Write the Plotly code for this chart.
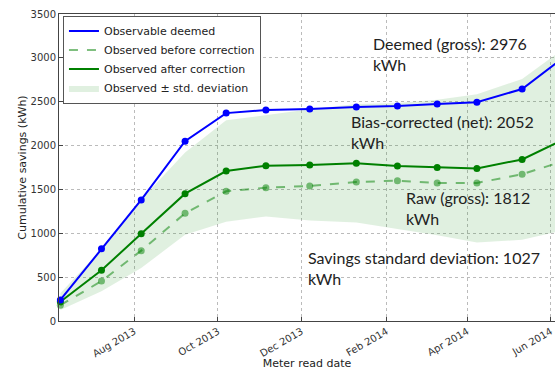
import plotly.graph_objects as go

# Meter read dates (roughly monthly)
read_dates = [
    "2013-06-08", "2013-07-08", "2013-08-06", "2013-09-07", "2013-10-07",
    "2013-11-05", "2013-12-07", "2014-01-10", "2014-02-09", "2014-03-10",
    "2014-04-08", "2014-05-11", "2014-06-08",
]

# Cumulative savings in kWh
deemed = [240, 825, 1380, 2050, 2370, 2405, 2417, 2440, 2452, 2475, 2495, 2645, 2976]
observed_raw = [180, 455, 802, 1228, 1479, 1520, 1540, 1585, 1600, 1574, 1574, 1673, 1812]
observed_corrected = [220, 578, 995, 1452, 1710, 1771, 1779, 1798, 1768, 1750, 1740, 1842, 2052]
savings_std = [95, 240, 390, 470, 578, 580, 634, 675, 718, 771, 845, 917, 1027]

y_ticks = [0, 500, 1000, 1500, 2000, 2500, 3000, 3500]
x_ticks = ["2013-08-01", "2013-10-01", "2013-12-01", "2014-02-01", "2014-04-01", "2014-06-01"]
x_tick_labels = ["Aug 2013", "Oct 2013", "Dec 2013", "Feb 2014", "Apr 2014", "Jun 2014"]

# Summary labels placed on the chart
annotations_text = [
    ("Deemed (gross): 2976<br>kWh", "2014-01-21", 3290),
    ("Bias-corrected (net): 2052<br>kWh", "2014-01-05", 2400),
    ("Raw (gross): 1812<br>kWh", "2014-02-14", 1535),
    ("Savings standard deviation: 1027<br>kWh", "2013-12-04", 855),
]

BLUE = "#0000ff"
GREEN = "#008000"
GREEN_LIGHT = "rgba(0,128,0,0.5)"
BAND = "rgba(0,128,0,0.12)"

upper = [c + s for c, s in zip(observed_corrected, savings_std)]
lower = [c - s for c, s in zip(observed_corrected, savings_std)]

fig = go.Figure()

# Standard deviation band
fig.add_trace(go.Scatter(x=read_dates, y=lower, mode="lines", line=dict(width=0),
                         showlegend=False, hoverinfo="skip"))
fig.add_trace(go.Scatter(x=read_dates, y=upper, mode="lines", line=dict(width=0),
                         fill="tonexty", fillcolor=BAND,
                         name="Observed \u00b1 std. deviation", legendrank=4))

# Lines (legend entries)
fig.add_trace(go.Scatter(x=read_dates, y=observed_raw, mode="lines",
                         line=dict(color=GREEN_LIGHT, width=2, dash="dash"),
                         name="Observed before correction", legendrank=2))
fig.add_trace(go.Scatter(x=read_dates, y=observed_corrected, mode="lines",
                         line=dict(color=GREEN, width=2),
                         name="Observed after correction", legendrank=3))
fig.add_trace(go.Scatter(x=read_dates, y=deemed, mode="lines",
                         line=dict(color=BLUE, width=2),
                         name="Observable deemed", legendrank=1))

# Markers
for ys, col in [(observed_raw, GREEN_LIGHT), (observed_corrected, GREEN), (deemed, BLUE)]:
    fig.add_trace(go.Scatter(x=read_dates, y=ys, mode="markers",
                             marker=dict(color=col, size=7),
                             showlegend=False, cliponaxis=False))

for text, xd, yv in annotations_text:
    fig.add_annotation(x=xd, y=yv, text=text, showarrow=False, xanchor="left",
                       yanchor="top", align="left",
                       font=dict(family="Lato", size=16, color="#222222"))

axis_common = dict(
    showline=True, linecolor="#444444", linewidth=1, mirror=True,
    ticks="inside", ticklen=4, tickcolor="#444444",
    showgrid=True, gridcolor="#bbbbbb", griddash="dot", gridwidth=1,
    zeroline=False,
    tickfont=dict(family="DejaVu Sans", size=10, color="#333333"),
)

fig.update_xaxes(
    type="date", range=["2013-06-07 00:00", "2014-06-04 00:00"],
    tickvals=x_ticks, ticktext=x_tick_labels, tickangle=-30, automargin=False,
    title=dict(text="Meter read date", font=dict(family="DejaVu Sans", size=11, color="#222222")),
    **axis_common,
)
fig.update_yaxes(
    range=[0, 3500], tickvals=y_ticks, automargin=True,
    title=dict(text="Cumulative savings (kWh)", standoff=1,
               font=dict(family="DejaVu Sans", size=11, color="#222222")),
    **axis_common,
)

fig.update_layout(
    width=555, height=370,
    margin=dict(l=59, r=0, t=14, b=49),
    paper_bgcolor="white", plot_bgcolor="white",
    showlegend=True,
    legend=dict(x=0.008, y=0.995, xanchor="left", yanchor="top",
                traceorder="normal",
                bgcolor="white", bordercolor="#555555", borderwidth=1,
                font=dict(family="DejaVu Sans", size=11, color="#222222"),
                itemwidth=30, tracegroupgap=0),
)

fig.write_html("out.html")
